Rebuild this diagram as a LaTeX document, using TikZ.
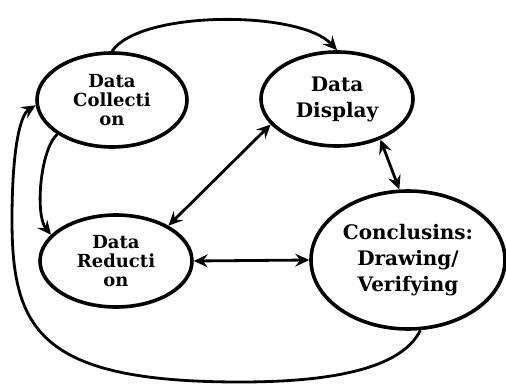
\documentclass[tikz,border=0pt]{standalone}
\usepackage{fontspec}
\setmainfont{DejaVu Serif}
\usetikzlibrary{shapes.geometric,arrows.meta}

\begin{document}
\begin{tikzpicture}[x=1pt,y=-1pt,
	>={Stealth[length=14pt,width=13pt,inset=5pt]},
	phase/.style={ellipse,draw,line width=3.6pt,align=center,inner sep=0pt},
	smalltext/.style={font=\fontsize{18}{19}\selectfont\bfseries},
	bigtext/.style={font=\fontsize{20}{26}\selectfont\bfseries},
	link/.style={->,line width=2.8pt}]

\useasboundingbox (0,0) rectangle (506,385);

%Data collection
\node[phase,smalltext,minimum width=150pt,minimum height=94pt] (coll) at (112,100) {Data\\Collecti\\on};

%Data display
\node[phase,bigtext,minimum width=152pt,minimum height=94pt] (disp) at (337,99) {Data\\Display};

%Data reduction
\node[phase,smalltext,minimum width=152pt,minimum height=92pt] (red) at (116,261) {Data\\Reducti\\on};

%Conclusions
\node[phase,bigtext,minimum width=194pt,minimum height=138pt] (concl) at (408,260) {Conclusins:\\Drawing/\\Verifying};

%links
\draw[link] (coll.north) .. controls (140,10) and (300,10) .. (disp.north);
\draw[link] (coll.212) .. controls (40,150) and (35,215) .. (red.158);
\draw[link,<->] (disp.201) -- (red.34);
\draw[link,<->] (disp.317) -- (concl.97);
\draw[link,<->] (red.east) -- (concl.west);
\draw[link] (concl.280) .. controls (400,372) and (320,382) .. (240,382)
	.. controls (40,382) and (12,330) .. (12,220)
	.. controls (12,150) and (20,115) .. (coll.184);

\end{tikzpicture}
\end{document}
